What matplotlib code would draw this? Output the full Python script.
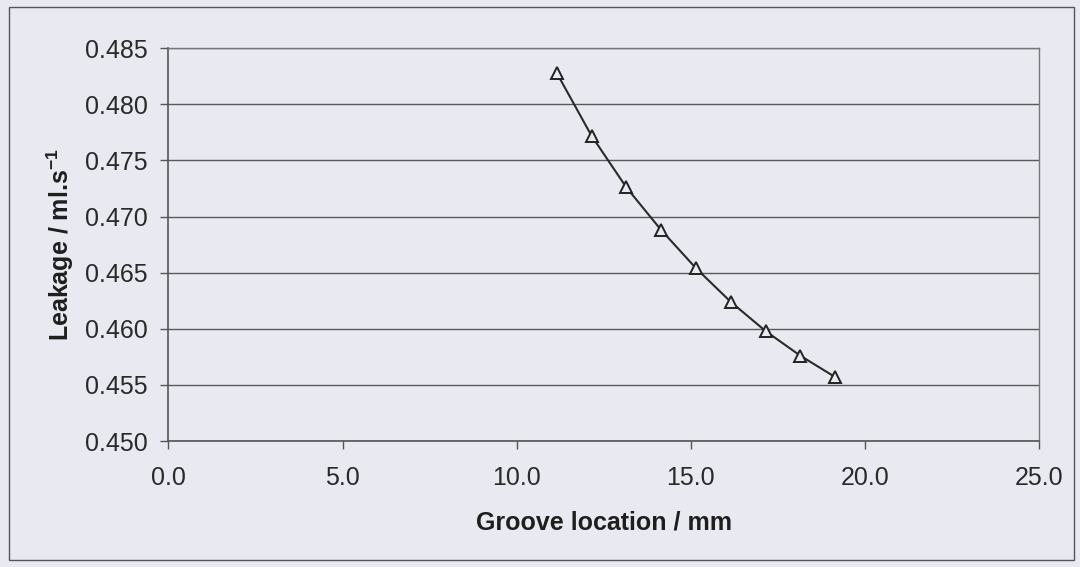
import matplotlib
matplotlib.use('Agg')
import matplotlib.pyplot as plt
from matplotlib.patches import Rectangle

# groove location (mm) and leakage (ml/s)
groove = [11.15, 12.15, 13.15, 14.15, 15.15, 16.15, 17.15, 18.15, 19.15]
leakage = [0.4828, 0.4772, 0.4726, 0.4688, 0.4654, 0.4624, 0.4598, 0.4576, 0.4557]

xticks = [0, 5, 10, 15, 20, 25]
yticks = [0.450, 0.455, 0.460, 0.465, 0.470, 0.475, 0.480, 0.485]

bg = '#e9e9f1'
plt.rcParams['font.family'] = ['Liberation Sans', 'DejaVu Sans']

fig = plt.figure(figsize=(10.8, 5.67), dpi=100, facecolor=bg)
ax = fig.add_axes([0.156, 0.222, 0.806, 0.693])
ax.set_facecolor(bg)

# outer chart frame
fig.patches.append(Rectangle((0.008, 0.012), 0.986, 0.975, transform=fig.transFigure,
                             fill=False, edgecolor='#555555', linewidth=1.0))

ax.plot(groove, leakage, color='#2a2a2a', linewidth=1.5, marker='^', markersize=8.5,
        markerfacecolor=bg, markeredgecolor='#222222', markeredgewidth=1.4)

ax.set_xlim(0, 25)
ax.set_ylim(0.450, 0.485)
ax.set_xticks(xticks)
ax.set_xticklabels(['%.1f' % v for v in xticks])
ax.set_yticks(yticks)
ax.set_yticklabels(['%.3f' % v for v in yticks])
ax.grid(axis='y', color='#5a5a5a', linewidth=1.0)
ax.set_axisbelow(True)

for s in ['left', 'bottom']:
    ax.spines[s].set_color('#555555')
    ax.spines[s].set_linewidth(1.2)
for s in ['top', 'right']:
    ax.spines[s].set_color('#777777')
    ax.spines[s].set_linewidth(1.0)

ax.tick_params(axis='both', direction='out', length=6, width=1.0, color='#555555',
               labelsize=18, labelcolor='#2a2a2a')
ax.tick_params(axis='y', pad=9)
ax.tick_params(axis='x', pad=12)

ax.set_xlabel('Groove location / mm', fontsize=18, fontweight='bold', labelpad=15,
              color='#1e1e1e')
ax.set_ylabel('Leakage / ml.s$^{\\mathregular{-1}}$', fontsize=18, fontweight='bold',
              labelpad=6, color='#1e1e1e')

fig.savefig('out.png', dpi=100, facecolor=bg)
